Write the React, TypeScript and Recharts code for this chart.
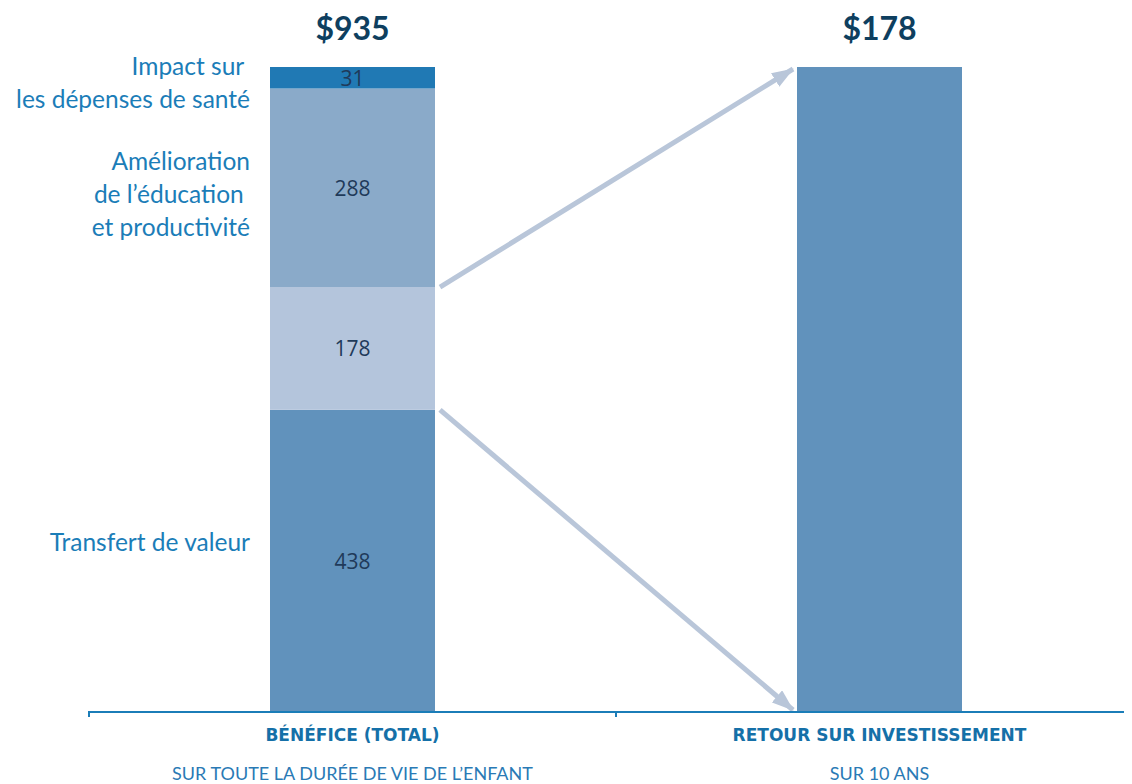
import * as R from 'recharts'
import { BarChart, Bar, XAxis, YAxis, LabelList, Customized } from 'recharts'

const categories = ['BÉNÉFICE (TOTAL)', 'RETOUR SUR INVESTISSEMENT']
const subtitles = ['SUR TOUTE LA DURÉE DE VIE DE L’ENFANT', 'SUR 10 ANS']

// left stacked bar (bottom to top)
const transfertValeur = [438, null]
const partRetour = [178, null]
const education = [288, null]
const sante = [31, null]
// right bar, drawn on its own scale
const retour = [null, 178]

const transfertLines = ['Transfert de valeur']
const educationLines = ['Amélioration', 'de l’éducation ', 'et productivité']
const santeLines = ['Impact sur ', 'les dépenses de santé']

const total = 438 + 178 + 288 + 31

const data = categories.map((c, i) => ({
  name: c,
  sub: subtitles[i],
  transfert: transfertValeur[i],
  part: partRetour[i],
  education: education[i],
  sante: sante[i],
  retour: retour[i],
}))

const BAR = 165
const BLUE = '#1b7db8'
const NAVY = '#0e3f5f'
const ARROW = '#b9c6d9'

const usePlot: any = (R as any).usePlotArea
const useOff: any = (R as any).useOffset

function Arrows() {
  let plot: any = null
  if (usePlot) plot = usePlot()
  else if (useOff) {
    const o = useOff()
    if (o) plot = { x: o.left, y: o.top, width: 1135 - o.left - o.right, height: 776 - o.top - o.bottom }
  }
  if (!plot) plot = { x: 81, y: 59, width: 1054, height: 645 }
  const band = plot.width / categories.length
  const yOf = (v: number) => plot.y + plot.height * (1 - v / total)
  const x1 = plot.x + band / 2 + BAR / 2 + 5
  const x2 = plot.x + band * 1.5 - BAR / 2
  const lo = transfertValeur[0] as number
  const hi = lo + (partRetour[0] as number)
  return (
    <g>
      <defs>
        <marker id="head" markerUnits="userSpaceOnUse" markerWidth="22" markerHeight="16" refX="21" refY="8" orient="auto">
          <path d="M0,0 L22,8 L0,16 z" fill={ARROW} />
        </marker>
      </defs>
      <line x1={x1} y1={yOf(hi)} x2={x2 - 4} y2={plot.y + 2} stroke={ARROW} strokeWidth={5} markerEnd="url(#head)" />
      <line x1={x1} y1={yOf(lo)} x2={x2 - 4} y2={plot.y + plot.height - 2} stroke={ARROW} strokeWidth={5} markerEnd="url(#head)" />
    </g>
  )
}

function valueLabel(props: any) {
  const { x, y, width, height, value } = props
  if (value == null || !height) return null
  return (
    <text x={x + width / 2} y={y + height / 2} textAnchor="middle" dominantBaseline="central"
      fontFamily="'Open Sans', sans-serif" fontSize={21} fill="#1f3a5a">
      {value}
    </text>
  )
}

function sideLabel(lines: string[], shift: number) {
  return (props: any) => {
    const { x, y, height, value } = props
    if (value == null || !height) return null
    const lh = 33
    const cy = y + height / 2 + shift - ((lines.length - 1) * lh) / 2
    return (
      <text x={x - 20} textAnchor="end" fontFamily="Lato, sans-serif" fontSize={24.5} fill={BLUE} style={{ whiteSpace: 'pre' }}>
        {lines.map((l, i) => (
          <tspan key={i} x={x - 20} y={cy + i * lh} dominantBaseline="central">{l}</tspan>
        ))}
      </text>
    )
  }
}

function totalLabel(amount: number) {
  return (props: any) => {
    const { x, y, width, value } = props
    if (value == null) return null
    return (
      <text x={x + width / 2} y={y - 40} textAnchor="middle" dominantBaseline="central"
        fontFamily="Lato, sans-serif" fontWeight={700} fontSize={32} fill={NAVY}>
        ${amount}
      </text>
    )
  }
}

function CatTick(props: any) {
  const { x, y, payload, index } = props
  const half = payload && payload.offset ? payload.offset : 263.5
  return (
    <g>
      <line x1={x - half} y1={y - 9} x2={x - half} y2={y - 3} stroke={BLUE} strokeWidth={2} />
      <text x={x} y={y + 15} textAnchor="middle" dominantBaseline="central"
        fontFamily="'DejaVu Sans', sans-serif" fontWeight={700} fontSize={17} fill="#1570a8">
        {categories[index] ?? payload.value}
      </text>
      <text x={x} y={y + 53} textAnchor="middle" dominantBaseline="central"
        fontFamily="Lato, sans-serif" fontSize={18} fill="#2a7ab5">
        {subtitles[index]}
      </text>
    </g>
  )
}

export default function App() {
  return (
    <div style={{ width: 1200, height: 776, overflow: 'hidden' }}>
      <style>{'body{overflow:hidden}'}</style>
      <BarChart width={1135} height={776} data={data} barSize={BAR}
        margin={{ top: 59, right: 0, left: 81, bottom: 0 }}>
        <XAxis dataKey="name" height={72} interval={0} tickLine={false}
          axisLine={{ stroke: BLUE, strokeWidth: 2 }} tick={<CatTick />} />
        <YAxis yAxisId="l" hide domain={[0, total]} />
        <YAxis yAxisId="r" hide domain={[0, 178]} />
        <Bar yAxisId="l" dataKey="transfert" stackId="a" fill="#6192bc" isAnimationActive={false}>
          <LabelList dataKey="transfert" content={valueLabel} />
          <LabelList dataKey="transfert" content={sideLabel(transfertLines, -19)} />
        </Bar>
        <Bar yAxisId="l" dataKey="part" stackId="a" fill="#b4c5dc" isAnimationActive={false}>
          <LabelList dataKey="part" content={valueLabel} />
        </Bar>
        <Bar yAxisId="l" dataKey="education" stackId="a" fill="#8aaac9" isAnimationActive={false}>
          <LabelList dataKey="education" content={valueLabel} />
          <LabelList dataKey="education" content={sideLabel(educationLines, 6)} />
        </Bar>
        <Bar yAxisId="l" dataKey="sante" stackId="a" fill="#2079b4" isAnimationActive={false}>
          <LabelList dataKey="sante" content={valueLabel} />
          <LabelList dataKey="sante" content={sideLabel(santeLines, 4)} />
          <LabelList dataKey="sante" content={totalLabel(total)} />
        </Bar>
        <Bar yAxisId="r" dataKey="retour" stackId="a" fill="#6192bc" isAnimationActive={false}>
          <LabelList dataKey="retour" content={totalLabel(178)} />
        </Bar>
        <Customized component={<Arrows />} />
      </BarChart>
    </div>
  )
}
